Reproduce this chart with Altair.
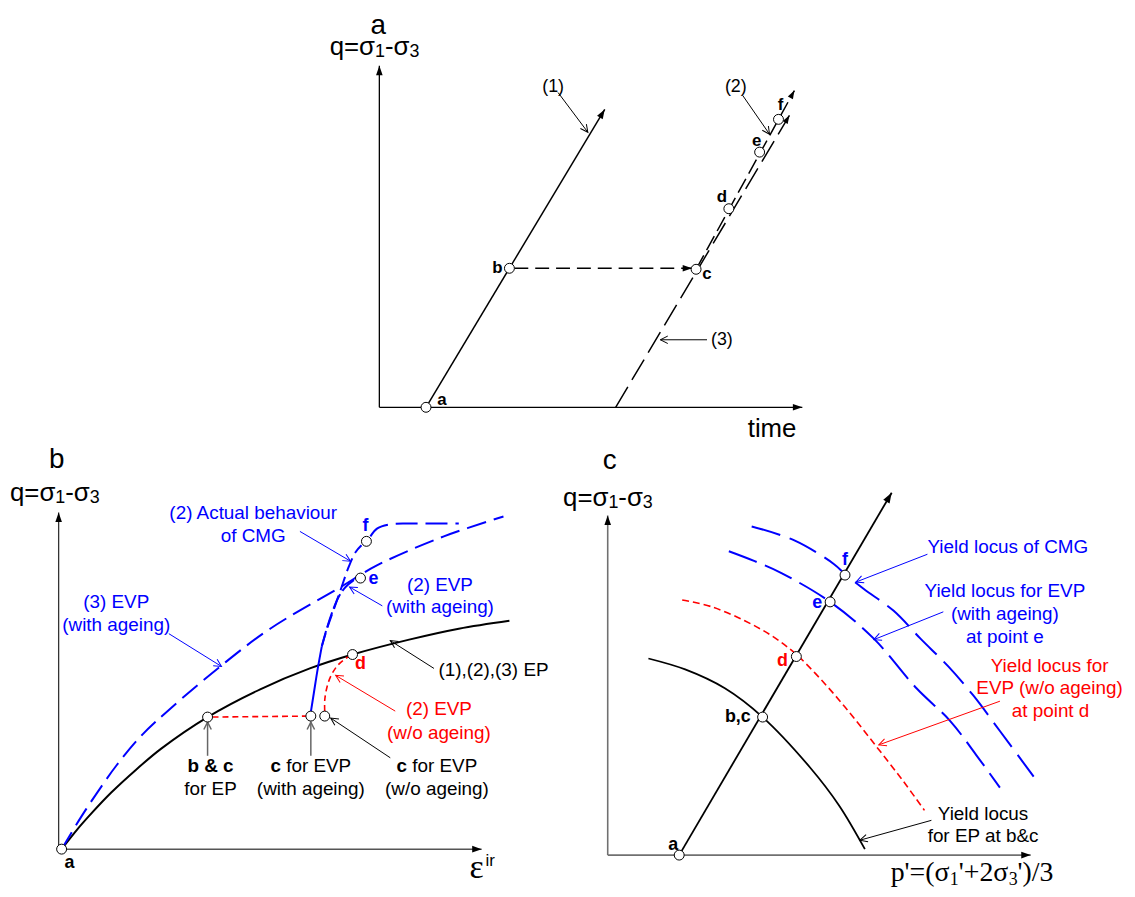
import math
import altair as alt
import pandas as pd

SANS = "Liberation Sans"
SERIF = "Liberation Serif"
BLUE = "#0000ff"
RED = "#ff0000"
GREY = "#666666"

# ---------------- data : schematic positions (x to the right, y downwards) ----------------
# Panel a : q against time
A_Y_AXIS = [(382, 407), (382, 63)]
A_X_AXIS = [(382, 407), (808, 407)]
A_PATH_1 = [(429, 407), (609, 107)]
A_PATH_BC = [(518, 267), (697, 267)]
A_PATH_2 = [(701, 268), (800, 88)]
A_PATH_3 = [(620, 407), (795, 113)]
A_NODES = [(429, 407), (513, 267), (701, 268), (734, 207), (765, 150), (784, 117)]
A_NODE_NAMES = ["a", "b", "c", "d", "e", "f"]
A_NODE_LABEL_POS = [(445, 400), (501, 267), (712, 273), (727, 195), (762, 139), (786, 103)]
A_CALLOUTS = [((562, 90), (592, 130)), ((748, 93), (775, 132)), ((712, 339), (665, 339))]
A_CALLOUT_TEXT = ["(1)", "(2)", "(3)"]
A_CALLOUT_POS = [(557, 84), (741, 84), (727, 339)]

# Panel b : q against irreversible strain
B_Y_AXIS = [(59, 852), (59, 513)]
B_X_AXIS = [(59, 852), (485, 852)]
B_EP = [(62, 852), (77, 833), (92, 816), (112, 795), (137, 772), (162, 751), (209, 719),
        (262, 691), (312, 670), (355, 656), (412, 641), (462, 630), (513, 622)]
B_EVP3 = [(62, 852), (82, 819), (102, 789), (117, 768), (142, 738), (172, 710), (223, 667),
          (272, 630), (343, 588), (380, 566), (447, 537), (507, 517)]
B_CMG_TAIL = [(373, 537), (380, 529), (392, 525), (410, 524), (430, 524), (462, 524)]
B_RED_FLAT = [(214, 719), (308, 718)]
B_RED_RISE = [(327, 713), (327, 702), (329, 690), (333, 678), (340, 667), (348, 660), (353, 657)]
B_BLUE_RISE = [(313, 714), (316, 695), (320, 670), (324, 648)]
B_BLUE_TO_E = [(324, 648), (329, 630), (335, 612), (341, 598), (348, 588), (355, 582), (359, 580)]
B_BLUE_TO_F = [(324, 648), (330, 628), (337, 608), (344, 588), (351, 568), (358, 553), (364, 546)]
B_NODES = [(62, 852), (209, 719), (313, 718), (327, 718), (355, 656), (363, 579), (369, 542)]
B_NODE_NAMES = ["a", "d", "e", "f"]
B_NODE_LABEL_POS = [(70, 866), (363, 666), (376, 580), (368, 527)]
B_CALLOUTS_BLUE = [((302, 532), (353, 562)), ((170, 635), (223, 668)), ((385, 607), (352, 588))]
B_CALLOUTS_BLACK = [((437, 670), (393, 642)), ((393, 760), (333, 720))]
B_CALLOUTS_RED = [((398, 713), (338, 677))]
B_CALLOUTS_GREY = [((209, 758), (209, 724)), ((313, 758), (313, 724))]
B_TEXT_BLUE = ["(2) Actual behaviour", "of CMG", "(3) EVP", "(with ageing)", "(2) EVP", "(with ageing)"]
B_TEXT_BLUE_POS = [(255, 514), (255, 537), (117, 603), (117, 626), (443, 586), (443, 608)]
B_TEXT_RED = ["(2) EVP", "(w/o ageing)"]
B_TEXT_RED_POS = [(442, 711), (442, 735)]
B_TEXT_BLACK = ["(1),(2),(3) EP", "for EP", "(with ageing)", "(w/o ageing)"]
B_TEXT_BLACK_POS = [(497, 672), (212, 791), (313, 791), (440, 791)]
B_TEXT_BOLD = ["b & c"]
B_TEXT_BOLD_POS = [(212, 768)]
B_C_FOR_EVP_CENTRES = [(313, 768), (440, 768)]

# Panel c : q against p'
C_Y_AXIS = [(612, 858), (612, 516)]
C_X_AXIS = [(612, 858), (1038, 858)]
C_PATH = [(684, 858), (898, 493)]
C_EP = [(653, 660), (690, 671), (730, 690), (768, 719), (816, 770), (845, 808), (871, 852)]
C_RED = [(687, 601), (717, 608), (750, 622), (777, 637), (802, 656), (833, 688), (860, 720),
         (886, 753), (910, 784), (931, 813)]
C_BLUE_E = [(734, 552), (760, 562), (787, 574), (836, 603), (880, 640), (923, 690), (957, 723),
            (983, 757), (1007, 790)]
C_BLUE_F = [(757, 527), (800, 541), (840, 565), (851, 575), (870, 590), (900, 612), (927, 640),
            (955, 668), (980, 697), (1007, 733), (1041, 779)]
C_NODES = [(684, 858), (768, 719), (802, 658), (836, 603), (851, 576)]
C_NODE_LABEL_POS = [(678, 848), (743, 719), (788, 663), (823, 604), (851, 561)]
C_CALLOUTS_BLUE = [((934, 555), (862, 583)), ((950, 613), (880, 641))]
C_CALLOUTS_RED = [((1007, 703), (885, 747))]
C_CALLOUTS_BLACK = [((938, 823), (866, 843))]
C_TEXT_BLUE = ["Yield locus of CMG", "Yield locus for EVP", "(with ageing)", "at point e"]
C_TEXT_BLUE_POS = [(1015, 548), (1012, 592), (1012, 615), (1012, 638)]
C_TEXT_RED = ["Yield locus for", "EVP (w/o ageing)", "at point d"]
C_TEXT_RED_POS = [(1057, 668), (1057, 690), (1058, 713)]
C_TEXT_BLACK = ["Yield locus", "for EP at b&c"]
C_TEXT_BLACK_POS = [(990, 817), (990, 839)]

# axis titles: (x start, baseline)
Q_LABEL_ANCHORS = [(332, 52), (10, 501), (567, 506)]
PANEL_TITLES = ["a", "b", "c"]
PANEL_TITLE_POS = [(381, 31), (57, 468), (614, 469)]

# ---------------- drawing helpers ----------------
X = alt.X("x:Q", scale=alt.Scale(domain=[8, 1135], nice=False, zero=False), axis=None)
Y = alt.Y("y:Q", scale=alt.Scale(domain=[8, 889], nice=False, zero=False, reverse=True), axis=None)

HEAD = "M0,0L-0.7,2L0.7,2Z"
CHEVRON = "M-0.75,1.5L0,0L0.75,1.5"


def pts_df(pts):
    return pd.DataFrame({"x": [p[0] for p in pts], "y": [p[1] for p in pts], "o": list(range(len(pts)))})


def line(pts, color="black", width=1.5, dash=None, interp="linear"):
    kw = dict(color=color, strokeWidth=width, interpolate=interp, strokeCap="butt")
    if dash:
        kw["strokeDash"] = dash
    return alt.Chart(pts_df(pts)).mark_line(**kw).encode(x=X, y=Y, order="o:Q")


def heads(pairs, color="black", size=100, shape=HEAD, filled=True, width=1.0):
    rows = []
    for (fx, fy), (tx, ty) in pairs:
        ang = math.degrees(math.atan2(tx - fx, -(ty - fy))) % 360
        rows.append({"x": tx, "y": ty, "a": ang})
    return alt.Chart(pd.DataFrame(rows)).mark_point(
        shape=shape, size=size, filled=filled, color=color, strokeWidth=width, opacity=1
    ).encode(x=X, y=Y, angle=alt.Angle("a:Q", scale=None))


def path_head(pts):
    return (pts[-2], pts[-1])


def callouts(pairs, color, width=1.0):
    layers = [line([a, b], color=color, width=width) for a, b in pairs]
    layers.append(heads(pairs, color=color, size=100, shape=CHEVRON, filled=False, width=width))
    return layers


def nodes(pts):
    return alt.Chart(pts_df(pts)).mark_point(
        shape="circle", size=100, filled=True, fill="white", stroke="black", strokeWidth=1, opacity=1
    ).encode(x=X, y=Y)


def texts(labels, pos, size=19, color="black", weight="normal", align="center",
          baseline="middle", font=SANS):
    df = pd.DataFrame({"x": [p[0] for p in pos], "y": [p[1] for p in pos], "t": labels})
    return alt.Chart(df).mark_text(
        fontSize=size, color=color, fontWeight=weight, align=align, baseline=baseline, font=font
    ).encode(x=X, y=Y, text="t:N")


def q_label(x0, base, F=26, S=18):
    # q=σ1-σ3 with subscripts, built from pieces (Arial-like advance widths)
    w_main1 = (0.556 + 0.584 + 0.617) * F
    w_sub = 0.556 * S
    w_main2 = (0.333 + 0.617) * F
    xs = [x0, x0 + w_main1, x0 + w_main1 + w_sub, x0 + w_main1 + w_sub + w_main2]
    return [
        texts(["q=σ", "-σ"], [(xs[0], base), (xs[2], base)], size=F, align="left", baseline="alphabetic"),
        texts(["1", "3"], [(xs[1], base + 2), (xs[3], base + 2)], size=S, align="left", baseline="alphabetic"),
    ]


def p_label(x0, base, F=28, S=18):
    w1 = (0.5 + 0.18 + 0.564 + 0.333 + 0.55) * F
    ws = 0.5 * S
    w2 = (0.18 + 0.564 + 0.5 + 0.55) * F
    xs = [x0, x0 + w1, x0 + w1 + ws, x0 + w1 + ws + w2, x0 + w1 + 2 * ws + w2]
    return [
        texts(["p'=(σ", "'+2σ", "')/3"], [(xs[0], base), (xs[2], base), (xs[4], base)],
              size=F, align="left", baseline="alphabetic", font=SERIF),
        texts(["1", "3"], [(xs[1], base + 4), (xs[3], base + 4)], size=S, align="left",
              baseline="alphabetic", font=SERIF),
    ]


def c_for_evp(cx, cy, F=19):
    total = 0.556 * F + (0.278 + 0.278 + 0.556 + 0.333 + 0.278 + 0.667 + 0.667 + 0.667) * F
    start = cx - total / 2
    cr = start + 0.556 * F
    return [
        texts(["c"], [(cr, cy)], size=F, weight="bold", align="right"),
        texts(["for EVP"], [(cr + 0.278 * F, cy)], size=F, align="left"),
    ]


layers = []

# ---------------- panel a ----------------
layers += [line(A_Y_AXIS, width=1.3), line(A_X_AXIS, width=1.3)]
layers += [line(A_PATH_1, width=1.5)]
layers += [line(A_PATH_BC, width=1.5, dash=[14, 7])]
layers += [line(A_PATH_2, width=1.5, dash=[16, 6])]
layers += [line(A_PATH_3, width=1.5, dash=[24, 8])]
layers += [heads([path_head(A_Y_AXIS), path_head(A_X_AXIS), path_head(A_PATH_1), path_head(A_PATH_BC)], size=90)]
layers += [heads([path_head(A_PATH_2), path_head(A_PATH_3)], size=70)]
layers += callouts(A_CALLOUTS, "black")
layers += [nodes(A_NODES)]
layers += [texts(A_NODE_NAMES, A_NODE_LABEL_POS, size=17, weight="bold")]
layers += [texts(A_CALLOUT_TEXT, A_CALLOUT_POS, size=18)]
layers += [texts(["time"], [(753, 437)], size=26, align="left", baseline="alphabetic")]

# ---------------- panel b ----------------
layers += [line(B_Y_AXIS, color="#333333", width=1.3), line(B_X_AXIS, color="#555555", width=1.5)]
layers += [heads([path_head(B_Y_AXIS), path_head(B_X_AXIS)], size=90)]
layers += [line(B_EP, width=2, interp="catmull-rom")]
layers += [line(B_EVP3, color=BLUE, width=2, dash=[20, 8], interp="catmull-rom")]
layers += [line(B_CMG_TAIL, color=BLUE, width=2, dash=[22, 8], interp="catmull-rom")]
layers += [line(B_RED_FLAT, color=RED, width=1.6, dash=[6, 4])]
layers += [line(B_RED_RISE, color=RED, width=1.6, dash=[6, 4], interp="catmull-rom")]
layers += [line(B_BLUE_RISE, color=BLUE, width=2, interp="catmull-rom")]
layers += [line(B_BLUE_TO_E, color=BLUE, width=2, dash=[16, 4], interp="catmull-rom")]
layers += [line(B_BLUE_TO_F, color=BLUE, width=2, dash=[14, 6], interp="catmull-rom")]
layers += callouts(B_CALLOUTS_BLUE, BLUE)
layers += callouts(B_CALLOUTS_BLACK, "black")
layers += callouts(B_CALLOUTS_RED, RED)
layers += callouts(B_CALLOUTS_GREY, GREY, width=1.5)
layers += [nodes(B_NODES)]
layers += [texts(B_NODE_NAMES[:1], B_NODE_LABEL_POS[:1], size=18, weight="bold")]
layers += [texts(B_NODE_NAMES[1:2], B_NODE_LABEL_POS[1:2], size=18, weight="bold", color=RED)]
layers += [texts(B_NODE_NAMES[2:], B_NODE_LABEL_POS[2:], size=18, weight="bold", color=BLUE)]
layers += [texts(B_TEXT_BLUE, B_TEXT_BLUE_POS, color=BLUE)]
layers += [texts(B_TEXT_RED, B_TEXT_RED_POS, color=RED)]
layers += [texts(B_TEXT_BLACK, B_TEXT_BLACK_POS)]
layers += [texts(B_TEXT_BOLD, B_TEXT_BOLD_POS, weight="bold")]
for cx, cy in B_C_FOR_EVP_CENTRES:
    layers += c_for_evp(cx, cy)
layers += [texts(["ε"], [(480, 881)], size=34, font=SERIF, baseline="alphabetic")]
layers += [texts(["ir"], [(489, 869)], size=17, align="left", baseline="alphabetic")]

# ---------------- panel c ----------------
layers += [line(C_Y_AXIS, color="#707070", width=1.6), line(C_X_AXIS, color="#707070", width=1.6)]
layers += [heads([path_head(C_Y_AXIS), path_head(C_X_AXIS)], size=90)]
layers += [line(C_PATH, width=1.8)]
layers += [heads([path_head(C_PATH)], size=110)]
layers += [line(C_EP, width=1.8, interp="catmull-rom")]
layers += [line(C_RED, color=RED, width=1.6, dash=[7, 4], interp="catmull-rom")]
layers += [line(C_BLUE_E, color=BLUE, width=2, dash=[30, 9], interp="catmull-rom")]
layers += [line(C_BLUE_F, color=BLUE, width=2, dash=[30, 10], interp="catmull-rom")]
layers += callouts(C_CALLOUTS_BLUE, BLUE)
layers += callouts(C_CALLOUTS_RED, RED)
layers += callouts(C_CALLOUTS_BLACK, "black")
layers += [nodes(C_NODES)]
layers += [texts(["a"], C_NODE_LABEL_POS[0:1], size=18, weight="bold")]
layers += [texts(["b,c"], C_NODE_LABEL_POS[1:2], size=18, weight="bold")]
layers += [texts(["d"], C_NODE_LABEL_POS[2:3], size=18, weight="bold", color=RED)]
layers += [texts(["e", "f"], C_NODE_LABEL_POS[3:5], size=18, weight="bold", color=BLUE)]
layers += [texts(C_TEXT_BLUE, C_TEXT_BLUE_POS, color=BLUE)]
layers += [texts(C_TEXT_RED, C_TEXT_RED_POS, color=RED)]
layers += [texts(C_TEXT_BLACK, C_TEXT_BLACK_POS)]
layers += p_label(897, 884)

# ---------------- shared labels ----------------
for x0, base in Q_LABEL_ANCHORS:
    layers += q_label(x0, base)
layers += [texts(PANEL_TITLES, PANEL_TITLE_POS, size=28, baseline="alphabetic")]

chart = alt.layer(*layers).properties(
    width=1127, height=881, padding=0, background="white",
    autosize=alt.AutoSizeParams(type="none")
).configure_view(stroke=None, strokeWidth=0)

chart.save("out.html", embed_options={"renderer": "svg", "actions": False})
